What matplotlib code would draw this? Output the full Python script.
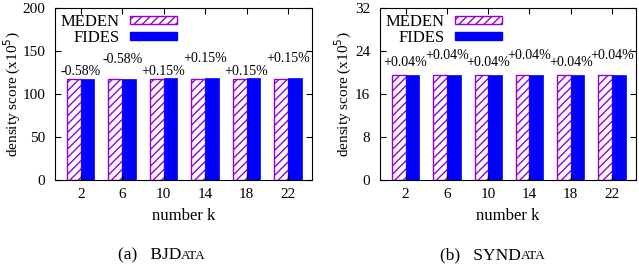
import numpy as np
import matplotlib.pyplot as plt
from matplotlib.patches import Patch

plt.rcParams['font.family'] = ['Liberation Serif', 'DejaVu Serif']
plt.rcParams['hatch.linewidth'] = 1.0
plt.rcParams['hatch.color'] = '#9400d3'

ks = [2, 6, 10, 14, 18, 22]

# BJData
bj_meden = [118, 118, 118, 118, 118, 118]
bj_fides = [117.3, 117.3, 118.2, 118.2, 118.2, 118.2]
bj_labels = ['-0.58%', '-0.58%', '+0.15%', '+0.15%', '+0.15%', '+0.15%']

# SynData
syn_meden = [19.5, 19.5, 19.5, 19.5, 19.5, 19.5]
syn_fides = [19.5, 19.5, 19.5, 19.5, 19.5, 19.5]
syn_labels = ['+0.04%'] * 6

purple = '#9400d3'
blue = '#0000ff'


def draw(ax, meden, fides, labels, ymax, yticks, offs, ylab_x):
    x = np.arange(len(ks))
    w = 0.33
    ax.bar(x - w / 2, meden, w, facecolor='white', edgecolor=purple,
           hatch='////', linewidth=1.0)
    ax.bar(x + w / 2, fides, w, color=blue, edgecolor=blue, linewidth=0.5)
    for i, lab in enumerate(labels):
        top = max(meden[i], fides[i])
        off = offs[0] if i % 2 == 0 else offs[1]
        ax.annotate(lab, (x[i], top), xytext=(0, off), textcoords='offset points',
                    ha='center', va='center', fontsize=10)
    ax.set_xlim(-0.62, len(ks) - 1 + 0.58)
    ax.set_ylim(0, ymax)
    ax.set_xticks(x)
    ax.set_xticklabels([str(k) for k in ks])
    ax.set_yticks(yticks)
    ax.tick_params(direction='in', top=True, right=True, labelsize=11, length=4)
    ax.tick_params(axis='x', pad=6)
    ax.tick_params(axis='y', pad=7)
    ax.set_xlabel('number k', fontsize=12, labelpad=5)
    ax.set_ylabel('density score (x10$^5$)', fontsize=11)
    ax.yaxis.set_label_coords(ylab_x, 0.5)
    handles = [Patch(facecolor='white', edgecolor=purple, hatch='////', label='MEDEN'),
               Patch(facecolor=blue, edgecolor=blue, label='FIDES')]
    ax.legend(handles=handles, loc='upper left', frameon=False, markerfirst=False,
              fontsize=12, handlelength=2.85, handleheight=0.4, handletextpad=0.6,
              labelspacing=0.0, borderaxespad=0.1, borderpad=0.25,
              bbox_to_anchor=(0.0, 1.0))


fig = plt.figure(figsize=(6.39, 2.70), dpi=100)
ax1 = fig.add_axes([55 / 639, 1 - 180 / 270, 257 / 639, 172 / 270])
ax2 = fig.add_axes([380 / 639, 1 - 180 / 270, 256 / 639, 172 / 270])

draw(ax1, bj_meden, bj_fides, bj_labels, 200, [0, 50, 100, 150, 200], (5, 14),
     (23 - 55) / 257)
draw(ax2, syn_meden, syn_fides, syn_labels, 32, [0, 8, 16, 24, 32], (9, 14),
     (354 - 380) / 256)


def caption(xc, tag, big, small):
    y = 1 - 255 / 270
    t = fig.text(xc, y, f'({tag})   {big}', fontsize=12.5, ha='left', va='center')
    fig.canvas.draw()
    total_w = t.get_window_extent().width
    t2 = fig.text(0, y - 0.004, small, fontsize=9.5, ha='left', va='center')
    fig.canvas.draw()
    w2 = t2.get_window_extent().width
    left = xc * 639 - (total_w + w2) / 2
    t.set_x(left / 639)
    t2.set_x((left + total_w) / 639)


caption(162 / 639, 'a', 'BJD', 'ATA')
caption(493 / 639, 'b', 'SYND', 'ATA')

fig.savefig('out.png', dpi=100)
